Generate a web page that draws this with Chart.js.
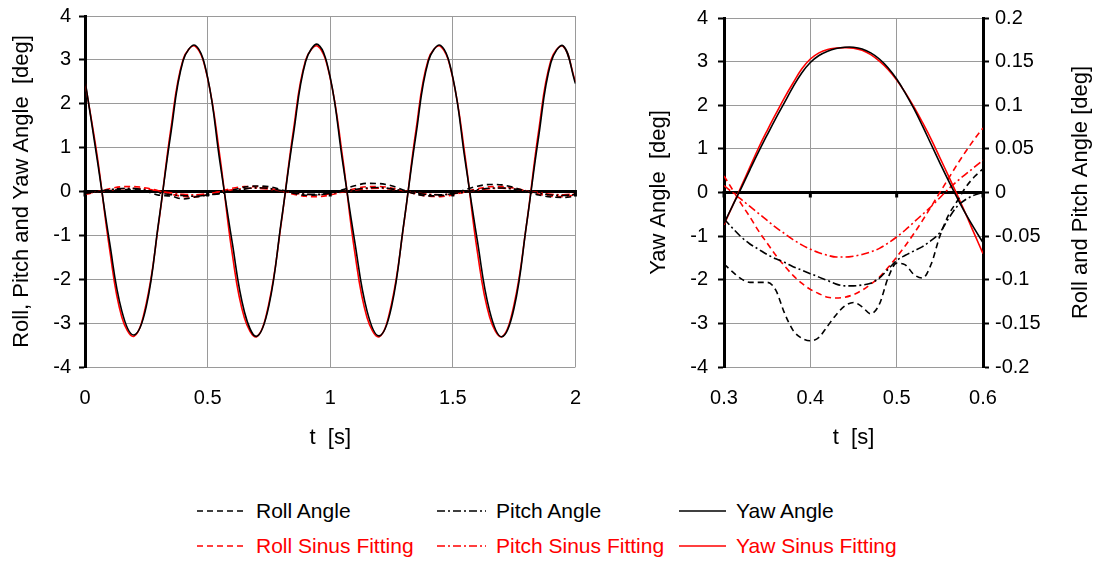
<!DOCTYPE html>
<html>
<head>
<meta charset="utf-8">
<script src="https://cdn.jsdelivr.net/npm/chart.js@4.4.1/dist/chart.umd.min.js"></script>
<style>
  body { margin: 0; background: #fff; width: 1094px; height: 561px; position: relative; overflow: hidden;
         font-family: "Liberation Sans", Arial, sans-serif; }
  #left { position: absolute; left: 0; top: -4px; }
  #right { position: absolute; left: 610px; top: -4px; }
  .leg { position: absolute; font-size: 21px; white-space: nowrap; line-height: 24px; }
  .leg svg { position: absolute; }
</style>
</head>
<body>
<canvas id="left" width="600" height="464"></canvas>
<canvas id="right" width="484" height="464"></canvas>

<div id="legend"></div>

<script>
// time axis, full run
const timeFull = [0, 0.05, 0.1, 0.15, 0.2, 0.25, 0.3, 0.35, 0.4, 0.45, 0.5, 0.55, 0.6, 0.65, 0.7, 0.75,
  0.8, 0.85, 0.9, 0.95, 1, 1.05, 1.1, 1.15, 1.2, 1.25, 1.3, 1.35, 1.4, 1.45, 1.5, 1.55, 1.6, 1.65,
  1.7, 1.75, 1.8, 1.85, 1.9, 1.95, 2];

const rollAngle = [-0.040, -0.010, 0.020, 0.045, 0.040, 0.000, -0.082, -0.103, -0.170, -0.126, -0.081,
  -0.050, 0.027, 0.100, 0.125, 0.110, 0.040, -0.040, -0.085, -0.080, -0.030, 0.040, 0.130, 0.185,
  0.180, 0.130, 0.030, -0.060, -0.100, -0.095, -0.040, 0.040, 0.120, 0.160, 0.150, 0.090, 0.000,
  -0.080, -0.125, -0.135, -0.110];
const pitchAngle = [-0.030, 0.000, 0.040, 0.070, 0.065, 0.030, -0.030, -0.071, -0.093, -0.107, -0.078,
  -0.046, 0.000, 0.055, 0.085, 0.070, 0.020, -0.030, -0.060, -0.065, -0.040, 0.000, 0.045, 0.080,
  0.090, 0.060, 0.010, -0.040, -0.070, -0.075, -0.050, -0.010, 0.040, 0.075, 0.080, 0.055, 0.010,
  -0.040, -0.080, -0.090, -0.070];
const yawAngle = [2.54, 0.72, -1.15, -2.72, -3.27, -2.62, -0.71, 1.32, 2.98, 3.33, 2.60, 0.68, -1.15,
  -2.74, -3.30, -2.60, -0.70, 1.30, 2.97, 3.35, 2.60, 0.70, -1.14, -2.72, -3.29, -2.63, -0.73, 1.30,
  2.97, 3.33, 2.60, 0.71, -1.12, -2.72, -3.31, -2.65, -0.78, 1.25, 2.94, 3.32, 2.46];
const rollFit = [-0.070, -0.005, 0.062, 0.108, 0.114, 0.078, 0.019, -0.058, -0.111, -0.117, -0.074,
  0.000, 0.074, 0.110, 0.112, 0.076, 0.012, -0.060, -0.110, -0.118, -0.078, -0.008, 0.064, 0.110,
  0.114, 0.078, 0.014, -0.058, -0.108, -0.116, -0.078, -0.006, 0.064, 0.108, 0.112, 0.076, 0.012,
  -0.060, -0.110, -0.116, -0.076];
const pitchFit = [-0.045, -0.010, 0.030, 0.062, 0.075, 0.058, 0.008, -0.032, -0.065, -0.073, -0.051,
  -0.006, 0.037, 0.068, 0.074, 0.052, 0.012, -0.033, -0.064, -0.074, -0.052, -0.010, 0.034, 0.066,
  0.074, 0.055, 0.014, -0.030, -0.062, -0.074, -0.054, -0.012, 0.032, 0.064, 0.075, 0.056, 0.016,
  -0.028, -0.062, -0.074, -0.056];
const yawFit = [2.50, 0.80, -1.30, -2.86, -3.30, -2.55, -0.74, 1.42, 3.01, 3.31, 2.58, 0.80, -1.40,
  -2.88, -3.31, -2.55, -0.73, 1.40, 3.00, 3.31, 2.58, 0.80, -1.38, -2.87, -3.31, -2.56, -0.75, 1.41,
  3.01, 3.31, 2.58, 0.80, -1.37, -2.86, -3.31, -2.57, -0.77, 1.38, 2.99, 3.31, 2.50];

// zoomed window 0.3 .. 0.6 s
const timeZoom = [0.30, 0.31, 0.32, 0.33, 0.34, 0.35, 0.36, 0.37, 0.38, 0.39, 0.40, 0.41, 0.42, 0.43,
  0.44, 0.45, 0.46, 0.47, 0.48, 0.49, 0.50, 0.51, 0.52, 0.53, 0.54, 0.55, 0.56, 0.57, 0.58, 0.59, 0.60];

const zoomRoll = [-0.082, -0.091, -0.099, -0.103, -0.103, -0.103, -0.112, -0.138, -0.158, -0.167,
  -0.170, -0.166, -0.153, -0.140, -0.130, -0.126, -0.131, -0.139, -0.128, -0.098, -0.081, -0.083,
  -0.094, -0.098, -0.082, -0.050, -0.026, -0.010, 0.006, 0.018, 0.027];
const zoomPitch = [-0.030, -0.041, -0.051, -0.059, -0.065, -0.071, -0.076, -0.080, -0.085, -0.089,
  -0.093, -0.097, -0.101, -0.105, -0.107, -0.107, -0.106, -0.104, -0.098, -0.088, -0.078, -0.072,
  -0.067, -0.062, -0.055, -0.046, -0.030, -0.016, -0.008, -0.003, 0.000];
const zoomYaw = [-0.71, -0.30, 0.10, 0.52, 0.93, 1.32, 1.70, 2.06, 2.42, 2.74, 2.98, 3.14, 3.24, 3.30,
  3.33, 3.33, 3.29, 3.20, 3.06, 2.86, 2.60, 2.28, 1.92, 1.52, 1.10, 0.68, 0.27, -0.12, -0.49, -0.83, -1.15];
const zoomRollFit = [0.019, 0.003, -0.013, -0.028, -0.044, -0.058, -0.072, -0.084, -0.095, -0.104,
  -0.111, -0.116, -0.120, -0.121, -0.120, -0.117, -0.112, -0.105, -0.097, -0.086, -0.074, -0.061,
  -0.047, -0.032, -0.016, 0.000, 0.016, 0.032, 0.047, 0.061, 0.074];
const zoomPitchFit = [0.008, 0.000, -0.008, -0.016, -0.024, -0.032, -0.040, -0.047, -0.054, -0.060,
  -0.065, -0.069, -0.072, -0.074, -0.074, -0.073, -0.071, -0.068, -0.064, -0.058, -0.051, -0.043,
  -0.034, -0.025, -0.016, -0.006, 0.004, 0.013, 0.021, 0.029, 0.037];
const zoomYawFit = [-0.74, -0.30, 0.14, 0.58, 1.02, 1.42, 1.80, 2.17, 2.51, 2.83, 3.06, 3.20, 3.28, 3.31,
  3.32, 3.31, 3.26, 3.16, 3.01, 2.82, 2.58, 2.29, 1.96, 1.60, 1.22, 0.80, 0.38, -0.05, -0.49, -0.95, -1.40];

// axis ranges / tick steps
const leftX = [0, 2, 0.5];
const zoomX = [0.3, 0.6, 0.1];
const angleY = [-4, 4, 1];
const smallY = [-0.2, 0.2, 0.05];

const legendItems = [
  { label: 'Roll Angle', color: '#000', dash: [6, 4] },
  { label: 'Pitch Angle', color: '#000', dash: [8, 3, 2, 3] },
  { label: 'Yaw Angle', color: '#000', dash: [] },
  { label: 'Roll Sinus Fitting', color: '#ff0000', dash: [6, 4] },
  { label: 'Pitch Sinus Fitting', color: '#ff0000', dash: [8, 3, 2, 3] },
  { label: 'Yaw Sinus Fitting', color: '#ff0000', dash: [] }
];

const FONT = { family: '"Liberation Sans", Arial, sans-serif', size: 20 };
const TITLE_FONT = { family: '"Liberation Sans", Arial, sans-serif', size: 22 };
const GRID = '#9a9a9a';

const pts = (xs, ys) => xs.map((x, i) => ({ x: x, y: ys[i] }));
const fmt = v => String(parseFloat(v.toFixed(2)));

function ds(item, xs, ys, axis) {
  const yaw = item.dash.length === 0;
  return {
    label: item.label,
    data: pts(xs, ys),
    borderColor: item.color,
    borderDash: item.dash,
    borderWidth: 1.6,
    pointRadius: 0,
    fill: false,
    tension: yaw ? 0.4 : 0,
    cubicInterpolationMode: yaw ? 'default' : 'monotone',
    yAxisID: axis || 'y'
  };
}

// small black tick marks on the zero line
const zeroTicks = {
  id: 'zeroTicks',
  afterDatasetsDraw(chart) {
    const { ctx, scales } = chart;
    const y0 = scales.y.getPixelForValue(0);
    ctx.save();
    ctx.fillStyle = '#000';
    scales.x.ticks.forEach(t => {
      const px = scales.x.getPixelForValue(t.value);
      ctx.fillRect(px - 1.5, y0 - 1.5, 3, 6.5);
    });
    ctx.restore();
  }
};

function angleAxis(width, pad, titleText, titlePad) {
  return {
    type: 'linear', position: 'left',
    min: angleY[0], max: angleY[1],
    ticks: { stepSize: angleY[2], font: FONT, color: '#000', padding: pad },
    grid: {
      color: c => (c.tick && c.tick.value === 0) ? '#000' : GRID,
      lineWidth: c => (c.tick && c.tick.value === 0) ? 3 : 1,
      tickColor: '#000', tickWidth: 2, tickLength: 6
    },
    border: { color: '#000', width: 3 },
    title: { display: true, text: titleText, font: TITLE_FONT, color: '#000', padding: { top: titlePad, bottom: 0 } },
    afterFit: s => { s.width = width; }
  };
}

function timeAxis(range) {
  return {
    type: 'linear', position: 'bottom',
    min: range[0], max: range[1],
    ticks: { stepSize: range[2], font: FONT, color: '#000', padding: 19, callback: fmt },
    grid: { color: GRID, lineWidth: 1, drawTicks: false },
    border: { display: false },
    title: { display: true, text: 't  [s]', font: TITLE_FONT, color: '#000', padding: { top: 0, bottom: 9 } },
    afterFit: s => { s.height = 93; }
  };
}

const common = {
  responsive: false,
  animation: false,
  events: [],
  plugins: { legend: { display: false }, tooltip: { enabled: false } }
};

new Chart(document.getElementById('left'), {
  type: 'line',
  data: {
    datasets: [
      ds(legendItems[0], timeFull, rollAngle),
      ds(legendItems[1], timeFull, pitchAngle),
      ds(legendItems[2], timeFull, yawAngle),
      ds(legendItems[3], timeFull, rollFit),
      ds(legendItems[4], timeFull, pitchFit),
      ds(legendItems[5], timeFull, yawFit)
    ]
  },
  options: Object.assign({}, common, {
    layout: { padding: { left: 0, right: 14, top: 12, bottom: 0 } },
    scales: {
      x: timeAxis(leftX),
      y: angleAxis(85, 8, 'Roll, Pitch and Yaw Angle  [deg]', 9)
    }
  }),
  plugins: [zeroTicks]
});

// right axis title reads bottom-to-top like the left one
const rightTitle = {
  id: 'rightTitle',
  afterDraw(chart) {
    const { ctx, chartArea } = chart;
    ctx.save();
    ctx.translate(471, (chartArea.top + chartArea.bottom) / 2);
    ctx.rotate(-Math.PI / 2);
    ctx.font = TITLE_FONT.size + 'px ' + TITLE_FONT.family;
    ctx.fillStyle = '#000';
    ctx.textAlign = 'center';
    ctx.textBaseline = 'middle';
    ctx.fillText('Roll and Pitch Angle [deg]', 0, 0);
    ctx.restore();
  }
};

new Chart(document.getElementById('right'), {
  type: 'line',
  data: {
    datasets: [
      ds(legendItems[0], timeZoom, zoomRoll, 'y1'),
      ds(legendItems[1], timeZoom, zoomPitch, 'y1'),
      ds(legendItems[2], timeZoom, zoomYaw, 'y'),
      ds(legendItems[3], timeZoom, zoomRollFit, 'y1'),
      ds(legendItems[4], timeZoom, zoomPitchFit, 'y1'),
      ds(legendItems[5], timeZoom, zoomYawFit, 'y')
    ]
  },
  options: Object.assign({}, common, {
    layout: { padding: { left: 0, right: 0, top: 12, bottom: 0 } },
    scales: {
      x: timeAxis(zoomX),
      y: angleAxis(114, 10, 'Yaw Angle  [deg]', 36),
      y1: {
        type: 'linear', position: 'right',
        min: smallY[0], max: smallY[1],
        ticks: { stepSize: smallY[2], font: FONT, color: '#000', padding: 6, callback: fmt },
        grid: { drawOnChartArea: false, tickColor: '#000', tickWidth: 2, tickLength: 6 },
        border: { color: '#000', width: 3 },
        afterFit: s => { s.width = 111; }
      }
    }
  }),
  plugins: [zeroTicks, rightTitle]
});

// legend below the charts: 3 columns x 2 rows
const legendCols = [{ line: 197, text: 256 }, { line: 437, text: 496 }, { line: 679, text: 736 }];
const legendRows = [511, 546];
const legendBox = document.getElementById('legend');
legendItems.forEach((item, i) => {
  const col = legendCols[i % 3];
  const rowY = legendRows[Math.floor(i / 3)];
  const el = document.createElement('div');
  el.className = 'leg';
  el.style.left = '0px';
  el.style.top = (rowY - 12) + 'px';
  el.style.width = '1094px';
  const w = col.text - col.line - 10;
  el.innerHTML =
    '<svg style="left:' + col.line + 'px;top:0" width="' + w + '" height="24">' +
    '<line x1="0" y1="12" x2="' + w + '" y2="12" stroke="' + item.color + '" stroke-width="1.6"' +
    (item.dash.length ? ' stroke-dasharray="' + item.dash.join(' ') + '"' : '') + '/></svg>' +
    '<span style="position:absolute;left:' + col.text + 'px;top:0;color:' + item.color + '">' + item.label + '</span>';
  legendBox.appendChild(el);
});
</script>
</body>
</html>
